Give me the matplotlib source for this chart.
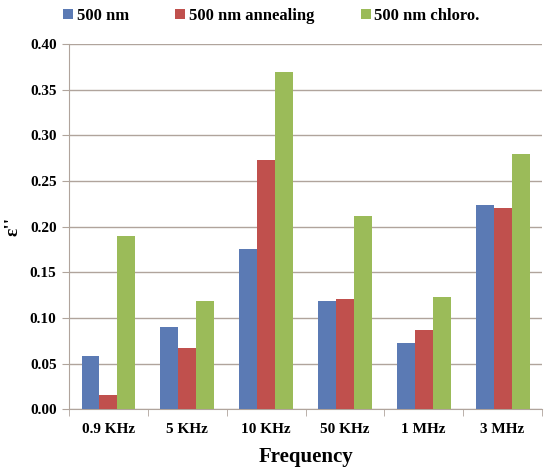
import numpy as np
import matplotlib
matplotlib.use('Agg')
import matplotlib.pyplot as plt

# ============================================
# DATA
# ============================================
categories = ['0.9 KHz', '5 KHz', '10 KHz', '50 KHz', '1 MHz', '3 MHz']
series_names = ['500 nm', '500 nm annealing', '500 nm chloro.']
plain = [0.058, 0.090, 0.175, 0.118, 0.072, 0.224]
annealing = [0.016, 0.067, 0.273, 0.121, 0.087, 0.220]
chloro = [0.190, 0.118, 0.369, 0.212, 0.123, 0.280]

colors = ['#5B7AB4', '#C0504D', '#9BBB59']
grid_col = '#B0A49C'

plt.rcParams['font.family'] = ['Liberation Serif', 'DejaVu Serif']
plt.rcParams['font.weight'] = 'bold'

fig = plt.figure(figsize=(5.48, 4.73), dpi=100)
ax = fig.add_axes([0.126, 0.135, 0.863, 0.772])

x = np.arange(len(categories))
w = 0.228
for i, vals in enumerate([plain, annealing, chloro]):
    ax.bar(x + (i - 1) * w, vals, w, color=colors[i], label=series_names[i],
           zorder=3)

ax.set_xlim(-0.5, len(categories) - 0.5)
ax.set_ylim(0, 0.40)
ax.set_yticks(np.arange(0, 0.401, 0.05))
ax.set_yticklabels([f'{v:.2f}' for v in np.arange(0, 0.401, 0.05)],
                   fontsize=11, fontweight='bold')
ax.set_xticks(x)
ax.set_xticklabels(categories, fontsize=11, fontweight='bold')
ax.tick_params(axis='x', length=0, pad=10)
ax.set_xticks(np.arange(-0.5, len(categories) + 0.5, 1), minor=True)
ax.tick_params(axis='x', which='minor', length=5, color=grid_col, direction='out')
ax.tick_params(axis='y', length=5, color=grid_col, pad=4)

ax.yaxis.grid(True, color=grid_col, linewidth=1, zorder=0)
for s in ['top', 'right']:
    ax.spines[s].set_visible(False)
for s in ['left', 'bottom']:
    ax.spines[s].set_color(grid_col)

ax.set_xlabel('Frequency', fontsize=15, fontweight='bold', labelpad=8)
ax.set_ylabel("ε''", fontsize=14, fontweight='bold', labelpad=6)

ax.legend(loc='upper center', bbox_to_anchor=(0.428, 1.14), ncol=3,
          frameon=False, handlelength=0.6, handleheight=0.6,
          handletextpad=0.2, columnspacing=2.8,
          prop={'weight': 'bold', 'size': 12})

plt.savefig('out.png', dpi=100)
plt.close()
